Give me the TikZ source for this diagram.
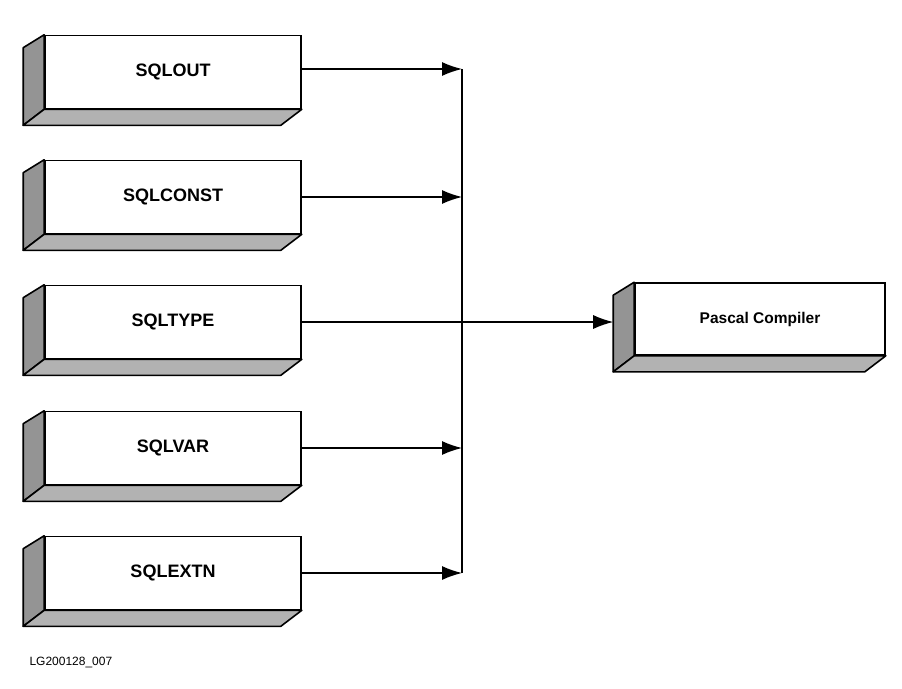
\documentclass[tikz,border=0pt]{standalone}
\usepackage{fontspec}
\setmainfont{Liberation Sans}
\usetikzlibrary{arrows.meta}

\tikzset{
    front/.style={draw, line width=1.6pt, fill=white, minimum width=256pt,
        minimum height=73pt, inner sep=0pt, font=\fontsize{18}{21}\selectfont\bfseries},
    sideface/.style={draw, line width=1.6pt, fill=black!42, line join=round},
    bottomface/.style={draw, line width=1.6pt, fill=black!30, line join=round},
    arr/.style={line width=1.3pt, -{Latex[length=20pt, width=14pt]}},
    bus/.style={line width=1.5pt}
}

\begin{document}
\begin{tikzpicture}[x=1pt, y=-1pt]
        \useasboundingbox (0, 0) rectangle (902, 688);

        % Header files
        \node[front] (out)   at (173, 72)  {SQLOUT};
        \node[front] (const) at (173, 197) {SQLCONST};
        \node[front] (type)  at (173, 322) {SQLTYPE};
        \node[front] (var)   at (173, 448) {SQLVAR};
        \node[front] (extn)  at (173, 573) {SQLEXTN};

        % Compiler
        \node[front, minimum width=250pt, minimum height=72pt,
            font=\fontsize{15.5}{18}\selectfont\bfseries] (pascal) at (760, 319) {Pascal Compiler};

        % Shaded faces
        \foreach \n in {out, const, type, var, extn, pascal} {
            \draw[sideface] (\n.north west) -- ([shift={(-21, 13)}]\n.north west)
                -- ([shift={(-21, 16)}]\n.south west) -- (\n.south west) -- cycle;
            \draw[bottomface] (\n.south west) -- (\n.south east)
                -- ([shift={(-21, 16)}]\n.south east) -- ([shift={(-21, 16)}]\n.south west) -- cycle;
        }

        \coordinate (bus) at (462, 0);
        \coordinate (pin) at ([shift={(-21, 0)}]pascal.west);

        % Bus
        \draw[bus] ([yshift=3pt]out.east -| bus) -- (extn.east -| bus);

        \draw[arr] ([yshift=3pt]out.east) -- ([yshift=3pt]out.east -| bus);
        \draw[arr] (const.east) -- (const.east -| bus);
        \draw[arr] (var.east) -- (var.east -| bus);
        \draw[arr] (extn.east) -- (extn.east -| bus);
        \draw[arr] (type.east) -- (type.east -| pin);

        % Figure number
        \node[font=\fontsize{12}{14}\selectfont, anchor=west] (fig) at (26, 662) {LG200128\_007};

\end{tikzpicture}
\end{document}
